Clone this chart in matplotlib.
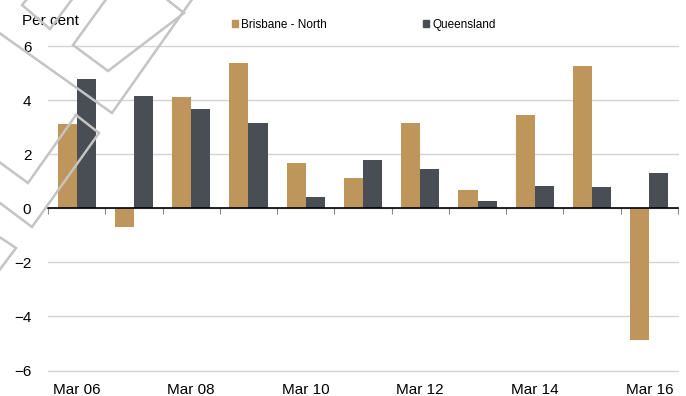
import matplotlib
import numpy as np

matplotlib.use("Agg")
import matplotlib.pyplot as plt
from matplotlib.lines import Line2D
from matplotlib.patches import Patch

plt.rcParams["font.family"] = ["Liberation Sans", "DejaVu Sans"]

categories = ["Mar 06", "Mar 07", "Mar 08", "Mar 09", "Mar 10", "Mar 11",
              "Mar 12", "Mar 13", "Mar 14", "Mar 15", "Mar 16"]
brisbane_north = [3.14, -0.67, 4.13, 5.38, 1.67, 1.13, 3.16, 0.70, 3.48, 5.28, -4.87]
queensland = [4.78, 4.16, 3.70, 3.16, 0.42, 1.81, 1.48, 0.26, 0.84, 0.81, 1.33]
y_ticks = [-6, -4, -2, 0, 2, 4, 6]
series_names = ["Brisbane - North", "Queensland"]

GOLD = "#BE955B"
DARK = "#494D54"
W, H = 686, 396

fig = plt.figure(figsize=(W / 100, H / 100), dpi=100)
ax = fig.add_axes([48 / W, 1 - 370.5 / H, 630 / W, 324 / H])

x = np.arange(len(categories))
bw = 1 / 3
ax.bar(x - bw / 2, brisbane_north, width=bw, color=GOLD, zorder=2)
ax.bar(x + bw / 2, queensland, width=bw, color=DARK, zorder=2)

ax.set_xlim(-0.5, len(categories) - 0.5)
ax.set_ylim(-6, 6)
ax.set_yticks(y_ticks)
ax.set_yticklabels([f"{v}".replace("-", "\u2212") for v in y_ticks])
ax.yaxis.grid(True, color="#D4D4D4", lw=1.0, zorder=0)
for gl in ax.get_ygridlines():
    gl.set_clip_on(False)
ax.set_axisbelow(True)
for s in ax.spines.values():
    s.set_visible(False)
ax.tick_params(axis="y", length=0, pad=12, labelsize=11)
ax.set_xticks(x[::2])
ax.set_xticklabels(categories[::2])
ax.tick_params(axis="x", length=0, pad=9, labelsize=11)

# zero line with category boundary ticks
ax2 = ax.twiny()
ax2.set_xlim(ax.get_xlim())
for name, s in ax2.spines.items():
    s.set_visible(name == "bottom")
ax2.spines["bottom"].set_position(("data", 0))
ax2.spines["bottom"].set_color("black")
ax2.spines["bottom"].set_linewidth(1.2)
ax2.spines["bottom"].set_zorder(3)
ax2.xaxis.set_ticks_position("bottom")
ax2.set_xticks(np.arange(-0.5, len(categories), 1.0))
ax2.tick_params(axis="x", direction="out", length=4, color="#888888",
                width=0.8, labelbottom=False, labeltop=False)

fig.text(22 / W, 1 - 21 / H, "Per cent", fontsize=11, va="center", ha="left")

handles = [Patch(color=GOLD), Patch(color=DARK)]
fig.legend(handles, series_names, loc="center left",
           bbox_to_anchor=(232 / W, 1 - 25 / H), ncol=2, frameon=False,
           fontsize=8.5, handlelength=0.5, handleheight=0.5,
           handletextpad=0.3, columnspacing=8.1, borderpad=0, borderaxespad=0)

# faint logo watermark outlines (pixel coordinates, y down)
watermark = [
    [(28, -2), (22, 5), (50, 29), (73, -2)],
    [(107, -2), (73, 45), (108, 71), (184, 13), (165, -2)],
    [(-2, 32), (112, 113), (193, -2)],
    [(76, 115), (99, 133), (32, 227), (-20, 188), (-20, 148), (28, 183), (76, 115)],
    [(-2, 236), (16, 248), (-2, 272)],
]
for pts in watermark:
    xs = [p[0] / W for p in pts]
    ys = [1 - p[1] / H for p in pts]
    fig.add_artist(Line2D(xs, ys, transform=fig.transFigure, color="#C4C4C4",
                          lw=1.8, solid_joinstyle="miter", zorder=5))

fig.savefig("out.png", dpi=100)
